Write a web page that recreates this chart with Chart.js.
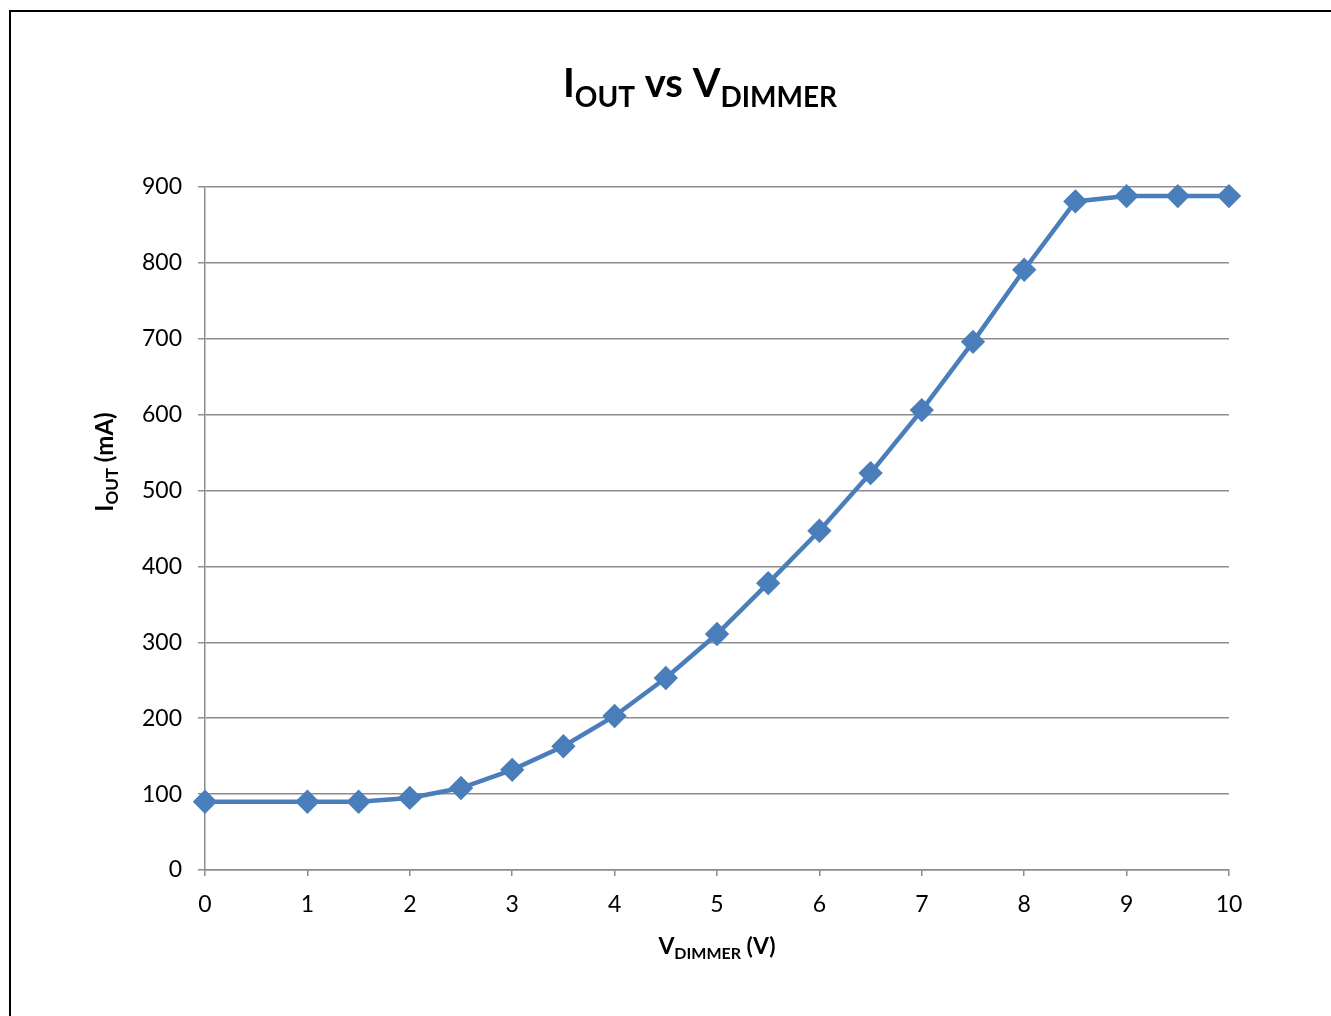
<!DOCTYPE html>
<html lang="en">
<head>
    <meta charset="UTF-8">
    <title>IOUT vs VDIMMER</title>
    <script src="https://cdn.jsdelivr.net/npm/chart.js"></script>
    <style>
        body { margin: 0; background: #fff; }
        canvas { display: block; }
    </style>
</head>
<body>
    <canvas id="ioutChart" width="1331" height="1016"></canvas>
    <script>
        const vDimmer = [0, 1, 1.5, 2, 2.5, 3, 3.5, 4, 4.5, 5, 5.5, 6, 6.5, 7, 7.5, 8, 8.5, 9, 9.5, 10];
        const iOut = [90, 90, 90, 95, 108, 132, 163, 203, 253, 311, 378, 447, 523, 606, 696, 791, 881, 888, 888, 888];

        const titleParts = [['I', false], ['OUT', true], [' vs ', false], ['V', false], ['DIMMER', true]];
        const xTitleParts = [['V', false], ['DIMMER', true], [' (V)', false]];
        const yTitleParts = [['I', false], ['OUT', true], [' (mA)', false]];

        const FONT = 'Lato, "Open Sans", sans-serif';
        const blue = '#4a7ebb';
        const gridGrey = '#8c8c8c';

        // draws text with subscript pieces, centred on x=0 at baseline y=0
        function drawSubText(ctx, parts, mainSize, subSize, subDrop) {
            const fontFor = sub => 'bold ' + (sub ? subSize : mainSize) + 'px ' + FONT;
            let total = 0;
            parts.forEach(([t, sub]) => { ctx.font = fontFor(sub); total += ctx.measureText(t).width; });
            let x = -total / 2;
            ctx.fillStyle = '#000';
            ctx.textBaseline = 'alphabetic';
            ctx.textAlign = 'left';
            parts.forEach(([t, sub]) => {
                ctx.font = fontFor(sub);
                ctx.fillText(t, x, sub ? subDrop : 0);
                x += ctx.measureText(t).width;
            });
        }

        const labelsPlugin = {
            id: 'labels',
            afterDraw(chart) {
                const ctx = chart.ctx;
                const area = chart.chartArea;
                ctx.save();
                // frame of the picture
                ctx.strokeStyle = '#000';
                ctx.lineWidth = 2;
                ctx.beginPath();
                ctx.moveTo(10, 1016);
                ctx.lineTo(10, 11);
                ctx.lineTo(1331, 11);
                ctx.stroke();

                ctx.save();
                ctx.translate(700, 97);
                drawSubText(ctx, titleParts, 40, 28, 10);
                ctx.restore();

                ctx.save();
                ctx.translate((area.left + area.right) / 2, 954);
                drawSubText(ctx, xTitleParts, 23, 16, 5);
                ctx.restore();

                ctx.save();
                ctx.translate(113, 462);
                ctx.rotate(-Math.PI / 2);
                drawSubText(ctx, yTitleParts, 24, 17, 5);
                ctx.restore();
                ctx.restore();
            }
        };

        const ctx = document.getElementById('ioutChart').getContext('2d');
        new Chart(ctx, {
            type: 'line',
            data: {
                datasets: [{
                    data: vDimmer.map((v, i) => ({ x: v, y: iOut[i] })),
                    borderColor: blue,
                    backgroundColor: blue,
                    borderWidth: 4.5,
                    pointStyle: 'rectRot',
                    pointRadius: 9,
                    pointHoverRadius: 9,
                    tension: 0,
                    clip: false
                }]
            },
            options: {
                responsive: false,
                animation: false,
                layout: { padding: { top: 187, right: 102, left: 0, bottom: 0 } },
                plugins: {
                    legend: { display: false },
                    tooltip: { enabled: false }
                },
                scales: {
                    x: {
                        type: 'linear',
                        min: 0,
                        max: 10,
                        afterFit: s => { s.height = 1016 - 870; },
                        ticks: { stepSize: 1, color: '#000', padding: 15, font: { family: FONT, size: 23 } },
                        grid: { drawOnChartArea: false, drawTicks: true, tickLength: 6, color: gridGrey, lineWidth: 1.5 },
                        border: { color: gridGrey, width: 1.5 }
                    },
                    y: {
                        min: 0,
                        max: 900,
                        afterFit: s => { s.width = 205; },
                        ticks: { stepSize: 100, color: '#000', padding: 16, font: { family: FONT, size: 23 } },
                        grid: { color: gridGrey, lineWidth: 1.5, tickLength: 7 },
                        border: { color: gridGrey, width: 1.5 }
                    }
                }
            },
            plugins: [labelsPlugin]
        });
    </script>
</body>
</html>
